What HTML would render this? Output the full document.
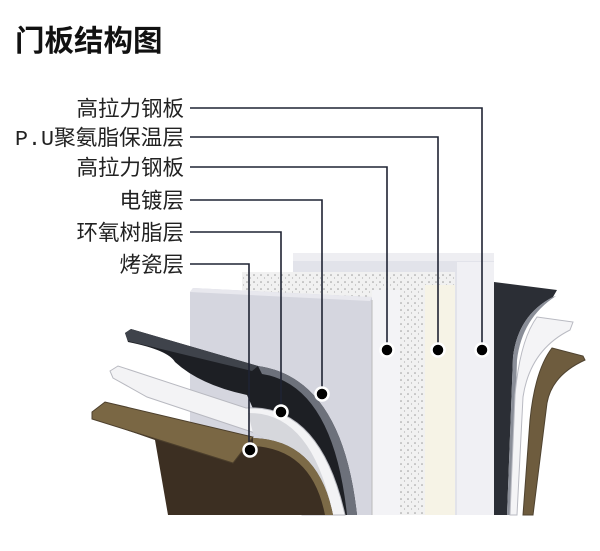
<!DOCTYPE html>
<html><head><meta charset="utf-8"><style>
body{margin:0;background:#fff;width:600px;height:546px;overflow:hidden;font-family:"Liberation Sans","Noto Sans CJK SC",sans-serif}
</style></head><body>
<svg width="600" height="546" viewBox="0 0 600 546" xmlns="http://www.w3.org/2000/svg">
<defs>
<pattern id="dots" width="7" height="7" patternUnits="userSpaceOnUse">
<rect width="7" height="7" fill="#f1f1f1"/><circle cx="2" cy="2" r="0.8" fill="#9a9a9a"/><circle cx="5.5" cy="5" r="0.6" fill="#b0b0b0"/>
</pattern>
</defs>
<text x="15" y="51" font-size="29.5" font-weight="bold" fill="#111" font-family="Liberation Sans,Noto Sans CJK SC,sans-serif">门板结构图</text>
<g font-size="21.5" fill="#222" text-anchor="end">
<text x="184" y="116">高拉力钢板</text>
<text x="184" y="145" font-family="Liberation Mono,Noto Sans CJK SC,monospace" textLength="169" lengthAdjust="spacingAndGlyphs">P.U聚氨脂保温层</text>
<text x="184" y="175">高拉力钢板</text>
<text x="184" y="208">电镀层</text>
<text x="184" y="240">环氧树脂层</text>
<text x="184" y="272">烤瓷层</text>
</g>
<!-- back panels -->
<rect x="293" y="254" width="201" height="261" fill="#e2e3ea"/>
<rect x="293" y="253" width="201" height="8" fill="#eeeef2"/>
<rect x="457" y="262" width="37" height="253" fill="#f0f0f4"/>
<rect x="242" y="272" width="213" height="243" fill="url(#dots)"/>
<rect x="372" y="290" width="28" height="225" fill="#f3f3f6"/>
<rect x="425" y="285" width="30" height="230" fill="#f6f3e6"/>
<polygon points="190,292 193,288 372,297 372,515 190,515" fill="#d5d6df"/>
<polygon points="190,292 193,288 372,297 370,301" fill="#e8e8ee"/>
<line x1="372" y1="300" x2="372" y2="515" stroke="#bbb" stroke-width="1"/>
<!-- right side layers -->
<path d="M494,282 L557,290 L553,297 Q518,315 513,357 L507,515 L494,515 Z" fill="#2b2e35"/>
<path d="M553,297 Q518,315 513,357 L507,515 L512,515 L517,360 Q522,318 556,296 Z" fill="#8a8e98"/>
<path d="M537,317 L573,322 L570,330 Q530,350 523,397 L517,515 L510,515 L515,395 Q520,340 537,317 Z" fill="#f4f4f6" stroke="#b9bac2" stroke-width="1"/>
<path d="M552,348 L583,356 L585,360 Q552,375 547,403 L533,515 L523,515 L530,420 Q535,370 552,348 Z" fill="#6e5c3e" stroke="#4f4330" stroke-width="1"/>
<!-- left dark -->
<path d="M125,333 L131,329 L258,366 Q342,378 357,515 L300,515 L247,395 Q200,385 175,362 Q168,350 128,342 Z" fill="#1d1f24"/>
<path d="M125,333 L131,329 L258,366 L252,371 L128,341 Z" fill="#3f434b"/>
<path d="M258,366 Q342,378 357,515 L347,515 Q333,385 262,374 Z" fill="#6d717b"/>
<!-- left white -->
<path d="M110,371 L118,366 L246,408 Q320,404 345,515 L302,515 Q290,445 252,432 L147,397 L113,378 Z" fill="#f3f3f5" stroke="#b8b9c0" stroke-width="1"/>
<path d="M248,413 Q312,412 333,515 L305,515 Q292,447 253,433 Z" fill="#d6d7dc"/>
<!-- left brown -->
<path d="M92,412 L105,402 L253,438 Q318,440 333,515 L168,515 L155,440 L92,418 Z" fill="#3c2f22"/>
<path d="M92,412 L105,402 L253,437 L233,463 L92,419 Z" fill="#7a6744" stroke="#4c3f2c" stroke-width="1"/>
<path d="M253,438 Q318,440 333,515 L325,515 Q312,449 253,446 Z" fill="#7c6a47"/>
<!-- leader lines -->
<g fill="none" stroke="#1f2333" stroke-width="1.6">
<polyline points="190,108 482,108 482,350"/>
<polyline points="190,137 438,137 438,350"/>
<polyline points="190,167 387,167 387,350"/>
<polyline points="190,200 322,200 322,394"/>
<polyline points="190,232 281,232 281,412"/>
<polyline points="190,264 249,264 249,450"/>
</g>
<g fill="#000" stroke="#fff" stroke-width="2.5">
<circle cx="482" cy="350" r="6.5"/>
<circle cx="438" cy="350" r="6.5"/>
<circle cx="387" cy="350" r="6.5"/>
<circle cx="322" cy="394" r="6.5"/>
<circle cx="281" cy="412" r="6.5"/>
<circle cx="250" cy="450" r="6.5"/>
</g>
</svg>
</body></html>
